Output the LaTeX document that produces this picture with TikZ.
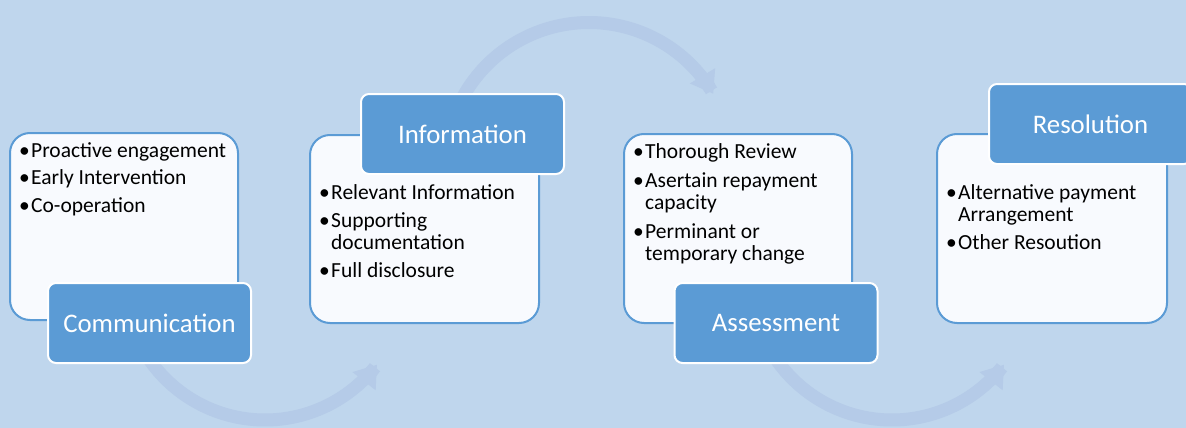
\documentclass[tikz,border=0pt]{standalone}
\usepackage{fontspec}
\setmainfont{Carlito}
\usetikzlibrary{arrows.meta}
\definecolor{bg}{HTML}{BFD6ED}
\definecolor{arccol}{HTML}{B5CBE8}
\definecolor{lab}{HTML}{5B9BD5}
\definecolor{boxfill}{HTML}{F8FAFE}
\definecolor{boxline}{HTML}{5B9BD5}
\newcommand\bul{\makebox[12pt][l]{•}}
\newcommand\cnt{\hspace*{12pt}}
\begin{document}
\begin{tikzpicture}[x=1pt,y=-1pt,
  panel/.style={draw=boxline, line width=2pt, fill=boxfill, rounded corners=20pt, inner sep=0pt},
  tag/.style={draw=white, line width=2pt, fill=lab, rounded corners=8pt, inner sep=0pt,
    minimum width=203pt, minimum height=80pt, text=white, font=\fontsize{26.8}{30}\selectfont},
  txt/.style={anchor=base west, inner sep=0pt, text=black},
  flow/.style={draw=arccol, line width=13pt, -{Triangle[length=21pt,width=28pt]}}]
\useasboundingbox (0,0) rectangle (1186,428);
\clip (0,0) rectangle (1186,428);
\fill[bg] (0,0) rectangle (1186,428);
% decorative arrows
\draw[flow] plot[domain=160:37.4,samples=90] ({265+141*cos(\x)},{279+141*sin(\x)});
\draw[flow] plot[domain=200:329.7,samples=90] ({589+144*cos(\x)},{166.5+144*sin(\x)});
\draw[flow] plot[domain=160:37.4,samples=90] ({892+141*cos(\x)},{279+141*sin(\x)});
% panels
\node[panel, minimum width=228pt, minimum height=187pt] (b1) at (124,226.5) {};
\node[panel, minimum width=229pt, minimum height=188pt] (b2) at (424.5,229) {};
\node[panel, minimum width=228pt, minimum height=189pt] (b3) at (738,228.5) {};
\node[panel, minimum width=230pt, minimum height=189pt] (b4) at (1052,228.5) {};
% texts
\node[txt] (t1) at (19,157) {\parbox[t]{220pt}{\fontsize{21.5}{22}\selectfont
  \bul Proactive engagement\\[5.5pt]\bul Early Intervention\\[5.5pt]\bul Co-operation}};
\node[txt] (t2) at (319,199) {\parbox[t]{220pt}{\fontsize{21.5}{22}\selectfont
  \bul Relevant Information\\[6pt]\bul Supporting\\\cnt documentation\\[6pt]\bul Full disclosure}};
\node[txt] (t3) at (633,158) {\parbox[t]{220pt}{\fontsize{21.5}{22}\selectfont
  \bul Thorough Review\\[7pt]\bul Asertain repayment\\\cnt capacity\\[7pt]\bul Perminant or\\\cnt temporary change}};
\node[txt] (t4) at (946,199) {\parbox[t]{220pt}{\fontsize{21.5}{22.5}\selectfont
  \bul Alternative payment\\\cnt Arrangement\\[5pt]\bul Other Resoution}};
% labels
\node[tag] (l1) at (149.5,323) {Communication};
\node[tag] (l2) at (462.5,134) {Information};
\node[tag] (l3) at (776,323) {Assessment};
\node[tag] (l4) at (1090.5,124) {Resolution};
\end{tikzpicture}
\end{document}
